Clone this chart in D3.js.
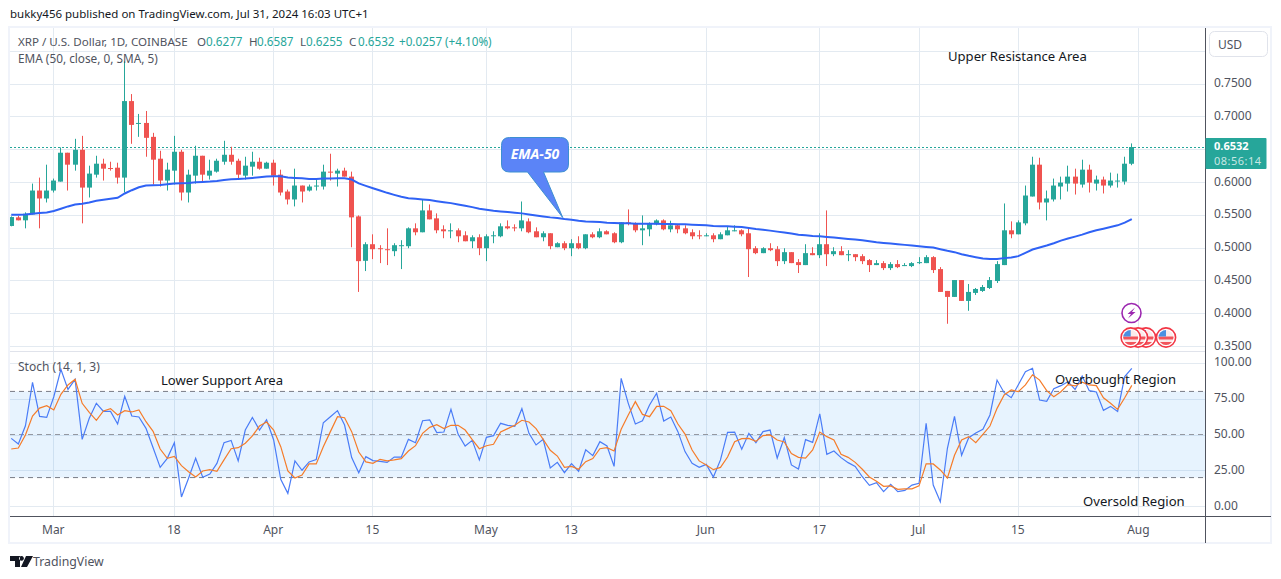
<!DOCTYPE html>
<html><head><meta charset="utf-8">
<script src="https://cdnjs.cloudflare.com/ajax/libs/d3/7.8.5/d3.min.js"></script>
<style>html,body{margin:0;padding:0;background:#fff}svg{display:block}text{font-family:"Noto Sans","Open Sans",sans-serif}</style>
</head><body><svg id="c" width="1281" height="579"></svg>
<script>
const startDate = "2024-02-24";
const opens = [.5329,.5460,.5415,.5505,.5869,.5748,.5869,.6005,.6445,.6263,.6490,.5914,.6111,.6278,.6212,.6217,.6066,.7232,.6889,.6899,.6687,.6354,.6021,.6172,.6460,.5839,.6096,.6399,.6096,.6157,.6308,.6414,.6323,.6096,.6233,.6308,.6202,.6293,.6111,.5854,.5733,.5945,.5869,.5930,.5930,.6157,.6127,.6172,.6081,.5475,
.4798,.5051,.4990,.4975,.4945,.5026,.5021,.5293,.5233,.5566,.5445,.5278,.5253,.5263,.5187,.5096,.5157,.4990,.5177,.5172,.5324,.5308,.5293,.5399,.5248,.5157,.5218,.5005,.5066,.4990,.5066,.4990,.5202,.5157,.5248,.5218,.5081,.5384,.5369,.5263,.5278,.5354,
.5414,.5278,.5339,.5293,.5233,.5187,.5177,.5187,.5127,.5187,.5253,.5263,.5218,.4990,.4915,.4990,.4975,.4793,.4930,.4778,.4733,.4915,.4884,.5051,.4899,.4945,.4889,.4899,.4869,.4809,.4733,.4763,.4687,.4748,.4723,.4718,.4768,.4763,.4854,.4672,.4339,.4248,.4505,
.4187,.4309,.4339,.4384,.4490,.4733,.5263,.5202,.5369,.5778,.6263,.5687,.5733,.5930,.5975,.6081,.5960,.6187,.5975,.6036,.5945,.6010,.6005,.6277];
const highs = [.5475,.5485,.5536,.5975,.6066,.6263,.6051,.6526,.6445,.6657,.6702,.6248,.6399,.6354,.6308,.6293,.7838,.7339,.7036,.7081,.6748,.6475,.6293,.6702,.6490,.6187,.6551,.6399,.6339,.6354,.6627,.6536,.6354,.6384,.6460,.6369,.6308,.6339,.6187,.5884,.6202,.5945,.5960,.6036,.6263,.6430,.6202,.6217,.6157,.5490,
.5081,.5202,.5036,.5293,.5066,.5112,.5308,.5369,.5733,.5657,.5521,.5339,.5369,.5293,.5248,.5187,.5202,.5202,.5248,.5369,.5414,.5354,.5702,.5445,.5308,.5248,.5218,.5081,.5096,.5127,.5172,.5202,.5233,.5293,.5263,.5233,.5384,.5581,.5384,.5490,.5384,.5430,
.5430,.5409,.5354,.5339,.5278,.5263,.5218,.5218,.5233,.5324,.5339,.5278,.5293,.5021,.5005,.5066,.5021,.4990,.4930,.4824,.5051,.5005,.5218,.5566,.5005,.5021,.4960,.4899,.4899,.4824,.4809,.4793,.4778,.4809,.4763,.4778,.4854,.4884,.4869,.4702,.4339,.4505,.4505,
.4445,.4384,.4430,.4551,.4793,.5672,.5399,.5414,.5945,.6384,.6369,.5869,.6051,.6081,.6248,.6202,.6339,.6263,.6096,.6081,.6142,.6127,.6384,.6587];
const lows = [.5324,.5415,.5293,.5505,.5293,.5687,.5839,.6005,.5869,.6172,.5369,.5763,.6066,.6021,.6172,.5975,.5839,.6581,.6687,.6384,.5960,.5930,.5869,.5960,.5717,.5687,.5975,.5990,.6036,.6142,.6263,.6263,.6051,.6036,.6096,.6187,.6202,.5945,.5793,.5657,.5627,.5687,.5854,.5869,.5884,.6021,.5930,.6081,.5005,.4324,
.4642,.4824,.4763,.4733,.4869,.4672,.4990,.5187,.5233,.5430,.5218,.5142,.5142,.5081,.5096,.4990,.4884,.4793,.5066,.5157,.5278,.5248,.5248,.5218,.5157,.5096,.4975,.5005,.4960,.4869,.4975,.4975,.5142,.5142,.5202,.5066,.5066,.5339,.5233,.5036,.5172,.5339,
.5263,.5233,.5218,.5202,.5127,.5127,.5172,.5081,.5127,.5187,.5248,.5172,.4551,.4899,.4915,.4945,.4718,.4748,.4763,.4612,.4733,.4884,.4839,.4718,.4869,.4884,.4793,.4793,.4748,.4627,.4733,.4657,.4657,.4687,.4718,.4702,.4748,.4763,.4612,.4324,.3839,.4248,.4187,
.4036,.4278,.4324,.4369,.4460,.4733,.5142,.5202,.5339,.5778,.5581,.5414,.5702,.5733,.5854,.5808,.5914,.5839,.5869,.5824,.5914,.5914,.5960,.6255];
const closes = [.5465,.5415,.5516,.5869,.5748,.5869,.6021,.6445,.6263,.6490,.5914,.6127,.6278,.6202,.6202,.6066,.7232,.6869,.6899,.6672,.6339,.6021,.6187,.6460,.5839,.6111,.6399,.6111,.6172,.6323,.6414,.6308,.6111,.6248,.6308,.6202,.6293,.6096,.5839,.5733,.5945,.5854,.5930,.5945,.6157,.6142,.6172,.6081,.5460,.4793,
.5051,.4975,.4980,.4965,.5036,.5036,.5293,.5233,.5566,.5430,.5263,.5248,.5263,.5172,.5096,.5157,.4990,.5172,.5187,.5324,.5293,.5298,.5414,.5233,.5157,.5218,.5021,.5066,.4990,.5066,.4990,.5202,.5157,.5248,.5202,.5081,.5384,.5369,.5263,.5293,.5369,.5414,
.5278,.5339,.5278,.5218,.5172,.5177,.5187,.5127,.5202,.5263,.5263,.5202,.4975,.4915,.4990,.4960,.4793,.4930,.4763,.4733,.4915,.4884,.5051,.4899,.4945,.4884,.4899,.4854,.4793,.4733,.4763,.4687,.4748,.4702,.4733,.4763,.4778,.4854,.4657,.4324,.4248,.4505,.4187,
.4324,.4369,.4399,.4505,.4748,.5263,.5202,.5384,.5793,.6263,.5687,.5748,.5945,.5990,.6081,.5975,.6187,.5990,.6036,.5945,.6021,.6021,.6278,.6532];
const ema50 = [.5500,.5500,.5505,.5516,.5526,.5536,.5556,.5591,.5627,.5657,.5667,.5687,.5712,.5728,.5743,.5758,.5824,.5874,.5919,.5945,.5950,.5955,.5965,.5975,.5980,.5985,.5995,.6000,.6005,.6015,.6031,.6041,.6046,.6051,.6061,.6071,.6081,.6086,.6086,.6066,.6061,.6056,.6046,.6046,.6051,.6051,.6056,.6056,.6036,.5978,
.5940,.5904,.5869,.5834,.5803,.5773,.5753,.5743,.5733,.5723,.5707,.5692,.5677,.5657,.5637,.5616,.5591,.5576,.5561,.5551,.5541,.5531,.5521,.5505,.5490,.5475,.5460,.5450,.5435,.5425,.5409,.5399,.5394,.5389,.5379,.5374,.5369,.5369,.5364,.5364,.5364,.5364,
.5359,.5359,.5354,.5354,.5349,.5344,.5339,.5329,.5324,.5324,.5319,.5313,.5298,.5283,.5273,.5258,.5243,.5228,.5213,.5197,.5187,.5177,.5172,.5162,.5152,.5142,.5132,.5122,.5111,.5096,.5081,.5071,.5061,.5051,.5041,.5031,.5021,.5010,.5000,.4975,.4950,.4930,.4899,
.4874,.4854,.4834,.4824,.4824,.4839,.4849,.4869,.4920,.4970,.5000,.5031,.5066,.5106,.5137,.5167,.5197,.5233,.5263,.5288,.5313,.5339,.5379,.5435];
const stochK = [47.3,43.4,56.1,86.3,62.6,61.9,76.3,95.4,81.4,88.4,46.6,61.3,71.7,66.1,66.1,57.3,76.6,62.9,62.2,54.3,40.8,27.1,33.4,44.3,6.5,19.5,33.4,20.2,22.5,29.9,44.3,45.9,31.6,53.1,61.9,53.1,60.3,46.2,18.8,9.0,31.6,25.1,30.9,32.5,
58.2,62.4,66.6,56.6,33.9,23.4,34.6,31.8,31.3,30.6,34.3,34.3,46.6,44.3,59.6,60.1,51.3,51.7,67.5,50.3,42.0,45.9,32.3,48.0,49.2,57.8,56.4,55.7,68.0,50.8,42.7,46.6,26.7,30.6,23.4,29.7,24.4,39.4,35.3,45.0,42.0,27.8,89.1,71.7,57.3,59.6,
70.5,78.7,59.4,62.2,52.0,38.1,29.9,27.1,29.2,20.4,32.3,51.5,51.7,39.7,50.8,44.3,52.0,53.1,33.6,47.8,28.8,26.0,46.4,44.5,64.3,36.2,38.5,33.9,30.4,27.8,20.6,14.6,16.5,10.2,15.3,10.2,11.1,14.8,16.0,57.8,14.8,3.2,40.4,62.6,35.5,47.8,51.0,53.6,63.6,87.9,79.1,75.6,84.7,93.7,96.1,74.0,73.1,81.9,84.0,86.8,81.4,90.7,80.5,79.6,66.8,69.6,66.1,90.3,96.1];
const stochD = [39.9,40.6,49.7,62.9,68.4,70.1,67.1,78.0,84.5,88.4,71.7,65.4,59.9,66.4,68.0,63.6,66.6,65.7,67.1,58.9,52.2,39.9,33.4,34.8,28.3,24.1,20.4,24.6,25.5,24.4,32.3,40.1,40.8,43.9,49.0,55.9,58.7,53.1,41.5,24.6,19.7,21.8,29.5,29.5,
41.5,52.0,62.4,61.7,52.0,37.8,30.9,29.9,32.7,31.6,32.3,33.2,38.5,42.2,50.8,55.0,56.8,54.1,56.4,56.4,53.1,46.4,40.1,42.2,43.2,51.7,54.1,56.4,59.9,58.7,54.1,46.6,39.0,35.0,27.1,27.8,25.8,31.1,33.2,40.1,40.8,38.5,53.6,63.6,72.9,64.0,
62.4,69.6,69.6,66.6,57.3,50.3,39.2,31.6,28.8,25.5,27.1,34.3,45.0,47.1,47.3,45.2,49.2,49.7,46.2,44.8,36.7,34.1,33.6,39.2,51.7,48.5,46.2,36.2,34.1,30.6,25.8,20.4,17.4,13.9,14.2,11.8,12.1,12.1,14.2,29.5,29.5,25.3,19.7,35.5,46.2,48.5,44.3,50.1,55.9,68.2,77.5,81.0,79.8,84.5,91.6,87.9,80.5,76.3,79.8,84.7,83.8,86.5,84.5,84.0,75.6,71.7,67.5,75.6,84.2];
const timeTicks = [["2024-03-01","Mar"],["2024-03-18","18"],["2024-04-01","Apr"],["2024-04-15","15"],["2024-05-01","May"],["2024-05-13","13"],["2024-06-01","Jun"],["2024-06-17","17"],["2024-07-01","Jul"],["2024-07-15","15"],["2024-08-01","Aug"]];
const priceGrid = [.35,.40,.45,.50,.55,.60,.65,.70,.75,.80];
const priceLabels = [.35,.40,.45,.50,.55,.60,.70,.75];
const stochTicks = [0,25,50,75,100];
const lastPrice = .6532;
const legendParts = [[18,"XRP / U.S. Dollar, 1D, COINBASE",0],[197,"O",0],[206,"0.6277",1],[249,"H",0],[257,"0.6587",1],[300,"L",0],[306,"0.6255",1],[349,"C",0],[358,"0.6532",1],[399,"+0.0257",1],[445,"(+4.10%)",1]];
const notes = [["Upper Resistance Area",948,61],["Lower Support Area",161,385],["Overbought Region",1055,384],["Oversold Region",1083,506]];

const svg = d3.select("#c");
const parse = d3.utcParse("%Y-%m-%d");
const t0 = parse(startDate);
const dates = opens.map((_,i)=>d3.utcDay.offset(t0,i));
const x = d3.scaleUtc().domain([t0,parse("2024-08-01")]).range([10.75,1138.4]);
const y = d3.scaleLinear().domain([.35,.75]).range([346,83.5]);
const ys = d3.scaleLinear().domain([0,100]).range([506.3,362.7]);
const L=10,R=1205.5,TOP=28,SEP=351,BOT=516,BOTTOM=543;
const ink="#50535e", grid="#e3eaf1", teal="#26a69a", red="#ef5350";

// frame
svg.append("rect").attr("x",9).attr("y",27).attr("width",1262).attr("height",516).attr("fill","#fff").attr("stroke","#f0f3fa").attr("stroke-width",2);
svg.append("defs").html(`<clipPath id="p1"><rect x="${L}" y="${TOP}" width="${R-L}" height="${SEP-TOP}"/></clipPath><clipPath id="p2"><rect x="${L}" y="${SEP}" width="${R-L}" height="${BOT-SEP}"/></clipPath>`);

// grids
const gv = svg.append("g");
gv.selectAll("line").data(timeTicks).join("line").attr("x1",d=>Math.round(x(parse(d[0])))+.5).attr("x2",d=>Math.round(x(parse(d[0])))+.5).attr("y1",TOP).attr("y2",BOT).attr("stroke",grid);
const gh = svg.append("g");
gh.selectAll("line.p").data(priceGrid).join("line").attr("class","p").attr("x1",L).attr("x2",R).attr("y1",d=>Math.round(y(d))+.5).attr("y2",d=>Math.round(y(d))+.5).attr("stroke",grid);
gh.selectAll("line.s").data(stochTicks).join("line").attr("class","s").attr("x1",L).attr("x2",R).attr("y1",d=>Math.round(ys(d))+.5).attr("y2",d=>Math.round(ys(d))+.5).attr("stroke",grid);

// stochastic band
svg.append("rect").attr("x",L).attr("width",R-L).attr("y",ys(80)).attr("height",ys(20)-ys(80)).attr("fill","#2196f3").attr("fill-opacity",.11);
[[80,"#787b86"],[50,"#9598a1"],[20,"#787b86"]].forEach(([v,c])=>{
  svg.append("line").attr("x1",L).attr("x2",R).attr("y1",ys(v)).attr("y2",ys(v)).attr("stroke",c).attr("stroke-dasharray","5 4").attr("stroke-width",1);
});

// last price line
svg.append("line").attr("x1",L).attr("x2",R).attr("y1",Math.round(y(lastPrice))+.5).attr("y2",Math.round(y(lastPrice))+.5).attr("stroke",teal).attr("stroke-dasharray","2 2");

// candles
const cg = svg.append("g").attr("clip-path","url(#p1)");
const cx = (i)=>Math.round(x(dates[i]));
const idx = d3.range(opens.length);
const col = i=>closes[i]>=opens[i]?teal:red;
cg.selectAll("line").data(idx).join("line").attr("x1",i=>cx(i)+.5).attr("x2",i=>cx(i)+.5).attr("y1",i=>y(highs[i])).attr("y2",i=>y(lows[i])).attr("stroke",col);
cg.selectAll("rect").data(idx).join("rect").attr("x",i=>cx(i)-2).attr("width",5)
  .attr("y",i=>y(Math.max(opens[i],closes[i]))).attr("height",i=>Math.max(1,Math.abs(y(opens[i])-y(closes[i])))).attr("fill",col);

// EMA
cg.append("path").attr("d",d3.line().x((d,i)=>x(dates[i])+.5).y(d=>y(d))(ema50)).attr("fill","none").attr("stroke","#2f62f5").attr("stroke-width",2);

// stoch lines
const sg = svg.append("g").attr("clip-path","url(#p2)");
const sl = d3.line().x((d,i)=>x(dates[i])+.5).y(d=>ys(d));
sg.append("path").attr("d",sl(stochK)).attr("fill","none").attr("stroke","#4a7cf7").attr("stroke-width",1.2);
sg.append("path").attr("d",sl(stochD)).attr("fill","none").attr("stroke","#f57c2a").attr("stroke-width",1.2);

// pane separators and axes
svg.append("line").attr("x1",L).attr("x2",R).attr("y1",SEP+.5).attr("y2",SEP+.5).attr("stroke","#e0e3eb").attr("stroke-width",1);
svg.append("line").attr("x1",L).attr("x2",1271).attr("y1",BOT+.5).attr("y2",BOT+.5).attr("stroke","#50535e");
svg.append("line").attr("x1",R).attr("x2",R).attr("y1",TOP).attr("y2",BOTTOM).attr("stroke","#50535e");

// axis labels
const fs=12;
svg.append("g").selectAll("text").data(priceLabels).join("text").attr("x",1214).attr("y",d=>y(d)+3.6).attr("font-size",fs).attr("fill",ink).text(d=>d.toFixed(4));
svg.append("g").selectAll("text").data(stochTicks).join("text").attr("x",1214).attr("y",d=>ys(d)+3.5).attr("font-size",fs).attr("fill",ink).text(d=>d.toFixed(2));
svg.append("g").selectAll("text").data(timeTicks).join("text").attr("x",d=>x(parse(d[0]))).attr("y",534).attr("text-anchor","middle").attr("font-size",fs).attr("fill",ink).text(d=>d[1]);

// legend
svg.append("text").attr("x",10).attr("y",18).attr("font-size",11.5).attr("fill","#131722").text("bukky456 published on TradingView.com, Jul 31, 2024 16:03 UTC+1");
svg.append("g").selectAll("text").data(legendParts).join("text").attr("x",d=>d[0]).attr("y",46).attr("font-size",d=>d[2]?11.7:11.6).attr("fill",d=>d[2]?teal:ink).text(d=>d[1]);
svg.append("text").attr("x",18).attr("y",63).attr("font-size",11.8).attr("fill",ink).text("EMA (50, close, 0, SMA, 5)");
svg.append("text").attr("x",18).attr("y",371).attr("font-size",fs).attr("fill",ink).text("Stoch (14, 1, 3)");

// notes
svg.append("g").selectAll("text").data(notes).join("text").attr("x",d=>d[1]).attr("y",d=>d[2]).attr("font-size",13.1).attr("fill","#131722").text(d=>d[0]);

// callout
svg.append("path").attr("d","M509.5 137.5H560.5Q568.5 137.5 568.5 145.5V164Q568.5 172 560.5 172H543.5L562.7 217.5L527.5 172H509.5Q501.5 172 501.5 164V145.5Q501.5 137.5 509.5 137.5Z").attr("fill","#5b84f7").attr("stroke","#3d8fd1").attr("stroke-width",1);
svg.append("text").attr("x",535).attr("y",159).attr("text-anchor","middle").attr("font-size",14).attr("font-style","italic").attr("font-weight",700).attr("fill","#fff").text("EMA-50");

// price label
svg.append("rect").attr("x",R).attr("y",138).attr("width",61).attr("height",31).attr("rx",1).attr("fill",teal);
svg.append("text").attr("x",1214).attr("y",150).attr("font-size",11).attr("font-weight",700).attr("fill","#fff").text("0.6532");
svg.append("text").attr("x",1214).attr("y",165).attr("font-size",11).attr("fill","#fff").attr("fill-opacity",.75).attr("textLength",47).text("08:56:14");

// USD button
svg.append("rect").attr("x",1209.5).attr("y",31.5).attr("width",58).attr("height",25).attr("rx",5).attr("fill","#fff").attr("stroke","#e0e3eb");
svg.append("text").attr("x",1218).attr("y",48.5).attr("font-size",12).attr("fill",ink).text("USD");

// event markers
const ev = svg.append("g");
ev.append("circle").attr("cx",1131.5).attr("cy",313).attr("r",9.5).attr("fill","#fff").attr("stroke","#9c27b0").attr("stroke-width",1.6);
ev.append("path").attr("d","M1135 307.5L1127.5 314H1131L1128 318.5L1135.5 312H1132Z").attr("fill","#9c27b0");
const flagCenters=[1146,1138,1130.7,1166];
flagCenters.forEach((fx,k)=>{
  const g=ev.append("g");
  g.append("clipPath").attr("id","fl"+k).append("circle").attr("cx",fx).attr("cy",337.5).attr("r",7.5);
  g.append("circle").attr("cx",fx).attr("cy",337.5).attr("r",9.6).attr("fill","#fff").attr("stroke","#f23645").attr("stroke-width",1.6);
  const f=g.append("g").attr("clip-path",`url(#fl${k})`);
  f.append("rect").attr("x",fx-8).attr("y",330).attr("width",16).attr("height",15).attr("fill","#fbeaea");
  f.append("rect").attr("x",fx-8).attr("y",336.5).attr("width",16).attr("height",3).attr("fill","#f2545b");
  f.append("rect").attr("x",fx-8).attr("y",342).attr("width",16).attr("height",3).attr("fill","#f2545b");
  f.append("rect").attr("x",fx-8).attr("y",330).attr("width",8).attr("height",6.5).attr("fill","#4a90e2");
});

// logo
svg.append("path").attr("d","M10 556H20V567H15V561H10ZM21 567L26 556H33L27 567Z M21.5 556a2.4 2.4 0 1 0 .01 0Z").attr("fill","#131722");
svg.append("text").attr("x",33).attr("y",566).attr("font-size",12.3).attr("fill","#50535e").text("TradingView");
</script></body></html>
